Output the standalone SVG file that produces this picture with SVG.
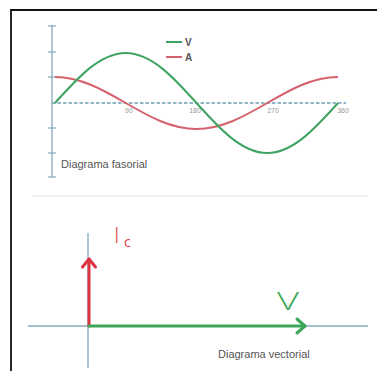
<svg xmlns="http://www.w3.org/2000/svg" width="377" height="371" viewBox="0 0 377 371">
<defs>
<style>
.axis{stroke:#86a9bc;stroke-width:1.3;fill:none}
.tick{stroke:#86a9bc;stroke-width:1.2}
.lbl{font-family:"Liberation Sans",Arial,sans-serif;fill:#555}
.small{font-size:7px;fill:#9a9a9a}
</style>
</defs>
<rect width="377" height="371" fill="#fff"/>
<path d="M11 371 V10 H377" fill="none" stroke="#111" stroke-width="1.8"/>
<g id="phasor">
<line class="axis" x1="52" y1="25" x2="52" y2="177"/>
<g class="tick">
<line x1="48" y1="26" x2="56" y2="26"/>
<line x1="48" y1="52" x2="56" y2="52"/>
<line x1="48" y1="77" x2="56" y2="77"/>
<line x1="48" y1="128" x2="56" y2="128"/>
<line x1="48" y1="153" x2="56" y2="153"/>
<line x1="48" y1="177" x2="56" y2="177"/>
</g>
<line x1="52" y1="103" x2="346" y2="103" stroke="#6f9db3" stroke-width="1.6" stroke-dasharray="3.5 2"/>
<g class="lbl small" text-anchor="middle">
<text x="129" y="113">90</text>
<text x="195" y="113">180</text>
<text x="273" y="113">270</text>
<text x="343" y="113">360</text>
</g>
<path d="M55 77 C80.58 77 102.68 89.68 125.75 103 C148.82 116.32 170.92 129 196.5 129 C222.08 129 244.18 116.32 267.25 103 C290.32 89.68 312.42 77 338 77" fill="none" stroke="#d4626e" stroke-width="2"/>
<path d="M55 103 C78.07 77.39 100.17 53 125.75 53 C151.33 53 173.43 77.39 196.5 103 C219.57 128.61 241.67 153 267.25 153 C292.83 153 314.93 128.61 338 103" fill="none" stroke="#3fa463" stroke-width="2"/>
<line x1="166" y1="42" x2="182" y2="42" stroke="#3fa463" stroke-width="2"/>
<line x1="166" y1="57" x2="182" y2="57" stroke="#d4626e" stroke-width="2"/>
<text class="lbl" x="185" y="45.5" font-size="10" font-weight="bold" fill="#666">V</text>
<text class="lbl" x="185" y="60.5" font-size="10" font-weight="bold" fill="#666">A</text>
<text class="lbl" x="61" y="168" font-size="11">Diagrama fasorial</text>
</g>
<line x1="32" y1="196" x2="368" y2="196" stroke="#e2e2e2" stroke-width="1.2"/>
<g id="vector">
<line class="axis" x1="88" y1="233" x2="88" y2="368"/>
<line class="axis" x1="28" y1="326" x2="368" y2="326"/>
</g>
<g id="connectors" fill="none" stroke-linecap="round" stroke-linejoin="round">
<path d="M89 326 V259" stroke="#dd3340" stroke-width="3"/>
<path d="M82.5 267 L89 259 L95.5 267" stroke="#dd3340" stroke-width="3"/>
<path d="M89 326 H305" stroke="#3aa858" stroke-width="3"/>
<path d="M297 319 L305 326 L297 333" stroke="#3aa858" stroke-width="3"/>
</g>
<g id="labels">
<text x="114" y="243" font-family="'Open Sans','Liberation Sans',sans-serif" font-size="22" fill="#dd3c4a" font-weight="300">I</text>
<text x="124" y="247" font-family="'Open Sans','Liberation Sans',sans-serif" font-size="14" fill="#dd3c4a">c</text>
<text x="277" y="310" font-family="'Open Sans','Liberation Sans',sans-serif" font-size="25" fill="#3aa858" font-weight="300" textLength="22" lengthAdjust="spacingAndGlyphs">V</text>
<text class="lbl" x="218" y="358" font-size="11">Diagrama vectorial</text>
</g>
</svg>
